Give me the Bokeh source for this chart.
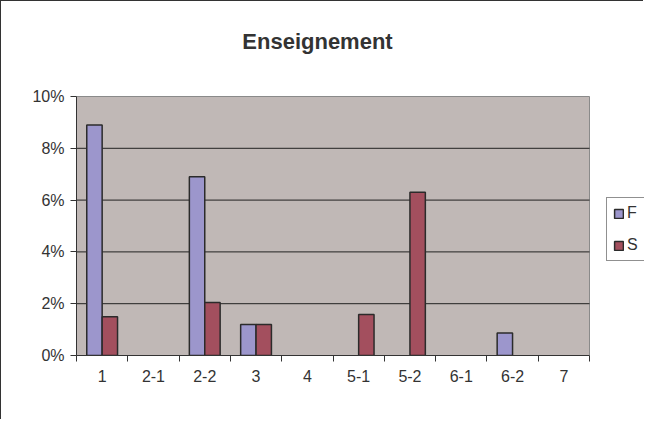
import numpy as np
from bokeh.plotting import figure
from bokeh.models import (Range1d, FixedTicker, NumeralTickFormatter,
                          Legend, LegendItem, Label, ColumnDataSource)
from bokeh.transform import dodge
from bokeh.embed import file_html
from bokeh.resources import INLINE

nan = np.nan
categories = ["1", "2-1", "2-2", "3", "4", "5-1", "5-2", "6-1", "6-2", "7"]
series_f = [0.089, nan, 0.069, 0.012, nan, nan, nan, nan, 0.0087, nan]
series_s = [0.015, nan, 0.0205, 0.012, nan, 0.0158, 0.063, nan, nan, nan]
y_ticks = [0.0, 0.02, 0.04, 0.06, 0.08, 0.10]
title_text = "Enseignement"

FONT = "Liberation Sans"
TXT = "#333333"

n = len(categories)
pos = [i + 0.5 for i in range(n)]  # category centre positions on the axis
src = ColumnDataSource(dict(pos=np.array(pos), f=np.array(series_f), s=np.array(series_s)))

W, H = 643, 419
LEFT, BOTTOM = 75, 65
plot_px_w = 513   # width of the plotting area in px
plot_px_h = 259   # height of the plotting area in px
frame_w = W - LEFT
frame_h = H - BOTTOM
x_end = n * frame_w / plot_px_w
y_end = y_ticks[-1] * frame_h / plot_px_h

p = figure(width=W, height=H, output_backend="svg", toolbar_location=None,
           x_range=Range1d(0, x_end), y_range=Range1d(0, y_end),
           min_border_left=LEFT, min_border_right=0, min_border_top=0, min_border_bottom=BOTTOM)
p.styles = {"border-left": "1px solid #333333", "border-top": "1px solid #333333"}
p.background_fill_color = "white"
p.border_fill_color = "white"
p.outline_line_color = None
p.xgrid.visible = False
p.ygrid.visible = False

# plot area background
p.quad(left=[0], right=[n], bottom=[y_ticks[0]], top=[y_ticks[-1]],
       fill_color="#C0B8B6", line_color="#8a8a8a", line_width=1)
# horizontal grid lines
p.segment(x0=[0] * (len(y_ticks) - 2), x1=[n] * (len(y_ticks) - 2),
          y0=y_ticks[1:-1], y1=y_ticks[1:-1], line_color="#222222", line_width=1)

rf = p.vbar(x=dodge("pos", -0.15), top="f", width=0.3, source=src,
            fill_color="#9C96CC", line_color="#2b2b2b", line_width=1.5)
rs = p.vbar(x=dodge("pos", 0.15), top="s", width=0.3, source=src,
            fill_color="#A34F5E", line_color="#2b2b2b", line_width=1.5)

# x axis: labels at category centres, ticks at category boundaries
xa = p.xaxis[0]
xa.bounds = (0, n)
xa.ticker = FixedTicker(ticks=pos, minor_ticks=list(range(n + 1)))
xa.major_label_overrides = {pp: c for pp, c in zip(pos, categories)}
xa.major_tick_line_color = None
xa.minor_tick_line_color = TXT
xa.minor_tick_out = 6
xa.minor_tick_in = 0
xa.axis_line_color = TXT
xa.major_label_text_font = FONT
xa.major_label_text_font_size = "16px"
xa.major_label_text_color = TXT
xa.major_label_standoff = 8

ya = p.yaxis[0]
ya.bounds = (y_ticks[0], y_ticks[-1])
ya.ticker = FixedTicker(ticks=y_ticks)
ya.formatter = NumeralTickFormatter(format="0%")
ya.minor_tick_line_color = None
ya.major_tick_out = 6
ya.major_tick_in = 0
ya.major_tick_line_color = TXT
ya.axis_line_color = TXT
ya.major_label_text_font = FONT
ya.major_label_text_font_size = "16px"
ya.major_label_text_color = TXT
ya.major_label_standoff = 6

legend = Legend(items=[LegendItem(label="F", renderers=[rf]), LegendItem(label="S", renderers=[rs])],
                location=(530, 94), padding=6, spacing=14,
                glyph_width=11, glyph_height=11, label_standoff=3, label_width=30,
                label_text_font=FONT, label_text_font_size="16px", label_text_color=TXT,
                border_line_color="#222222", border_line_width=1, background_fill_alpha=1)
p.add_layout(legend)

p.add_layout(Label(x=241, y=314, x_units="screen", y_units="screen", text=title_text,
                   text_font=FONT, text_font_style="bold", text_font_size="22px",
                   text_color=TXT, text_align="center", text_baseline="middle"))

open("out.html", "w").write(file_html(p, INLINE))
